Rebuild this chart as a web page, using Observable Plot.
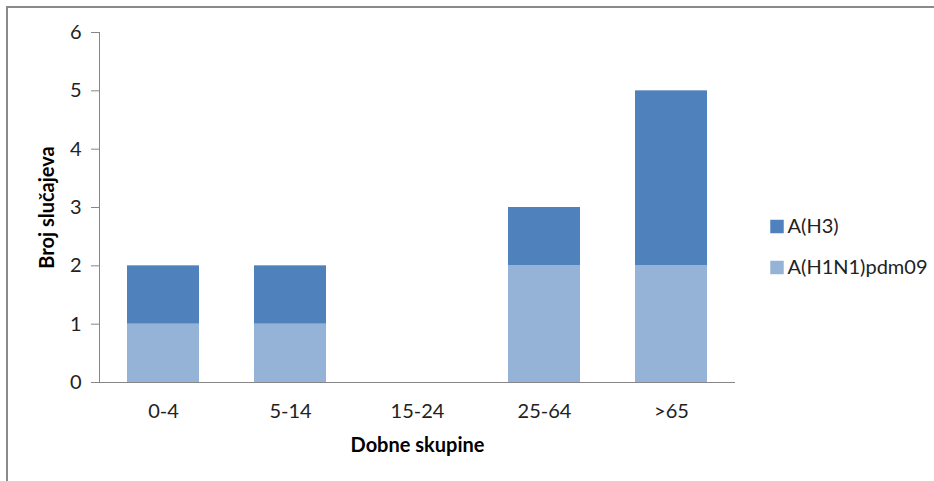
<!DOCTYPE html>
<html>
<head>
<meta charset="utf-8">
<script src="https://cdn.jsdelivr.net/npm/d3@7"></script>
<script src="https://cdn.jsdelivr.net/npm/@observablehq/plot@0.6"></script>
<style>
  html, body { margin: 0; padding: 0; background: #fff; overflow: hidden; }
  #wrap { position: relative; width: 934px; height: 481px; }
  #border { position: absolute; left: 6px; top: 6px; width: 940px; height: 500px; border: 2px solid #8a8a8a; box-sizing: border-box; }
  #chart { position: absolute; left: 0; top: 0; }
</style>
</head>
<body>
<div id="wrap"><div id="border"></div><div id="chart"></div></div>
<script>
const categories = ["0-4", "5-14", "15-24", "25-64", ">65"];
const series = ["A(H1N1)pdm09", "A(H3)"];
const h1n1 = [1, 1, 0, 2, 2];
const h3 = [1, 1, 0, 1, 3];
const colors = ["#95B3D7", "#4F81BD"];
const yTicks = [0, 1, 2, 3, 4, 5, 6];

const data = [];
categories.forEach((c, i) => data.push({cat: c, series: series[0], value: h1n1[i]}));
categories.forEach((c, i) => data.push({cat: c, series: series[1], value: h3[i]}));

const font = "Lato, 'Open Sans', sans-serif";
const legendItems = [
  {name: series[1], dy: 19},
  {name: series[0], dy: 60}
];

const plot = Plot.plot({
  width: 934,
  height: 481,
  marginLeft: 99,
  marginRight: 199,
  marginTop: 32,
  marginBottom: 99,
  style: {fontFamily: font, fontSize: "19px", color: "#222", background: "transparent"},
  x: {domain: categories, paddingInner: 0.43, paddingOuter: 0.215, label: null},
  y: {domain: [0, 6], label: null},
  color: {domain: series, range: colors},
  marks: [
    Plot.barY(data, {x: "cat", y: "value", fill: "series"}),
    Plot.frame({anchor: "left", stroke: "#868686"}),
    Plot.ruleY([0], {stroke: "#868686"}),
    Plot.axisY({ticks: yTicks, tickFormat: d3.format("d"), tickSize: 8, tickPadding: 10, stroke: "#868686", fill: "#222", fontSize: 20, label: null}),
    Plot.axisX({tickSize: 0, tickPadding: 21, fill: "#222", fontSize: 20, label: null}),
    Plot.text(["Broj slučajeva"], {frameAnchor: "left", dx: -52, rotate: -90, textAnchor: "middle", lineAnchor: "middle", fontWeight: "bold", fontSize: 20, fill: "#000"}),
    Plot.text(["Dobne skupine"], {frameAnchor: "bottom", dy: 63, textAnchor: "middle", lineAnchor: "middle", fontWeight: "bold", fontSize: 20, fill: "#000"}),
    ...legendItems.map(l => Plot.dot([l.name], {frameAnchor: "right", dx: 41.5, dy: l.dy, symbol: "square", r: 7.6, fill: d => d})),
    ...legendItems.map(l => Plot.text([l.name], {frameAnchor: "right", dx: 52, dy: l.dy, textAnchor: "start", lineAnchor: "middle", fontSize: 20, fill: "#222"}))
  ]
});
document.getElementById("chart").appendChild(plot);
</script>
</body>
</html>
